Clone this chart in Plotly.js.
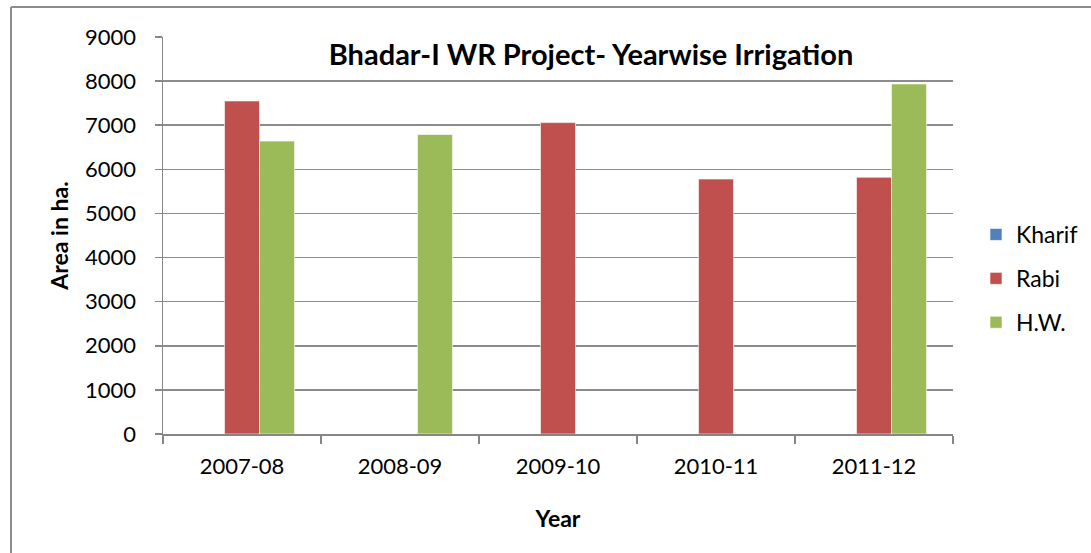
<!DOCTYPE html>
<html>
<head>
<meta charset="utf-8">
<script src="https://cdn.plot.ly/plotly-3.0.1.min.js"></script>
<style>html,body{margin:0;padding:0;background:#fff;}#chart{width:1091px;height:553px;}</style>
</head>
<body>
<div id="chart"></div>
<script>
const years = ["2007-08", "2008-09", "2009-10", "2010-11", "2011-12"];
const kharif = [0, 0, 0, 0, 0];
const rabi = [7550, 0, 7060, 5780, 5820];
const hw = [6640, 6790, 0, 0, 7935];

const FONT = "Lato, 'Liberation Sans', sans-serif";
const W = 1091, H = 553;
const L = 163, R = 953, T = 37, B = 434;
const px2x = p => (p - L) / (R - L);
const px2y = p => (B - p) / (B - T);

function bar(name, y, color, grp) {
  return {
    type: "bar", name: name, x: years, y: y,
    marker: {color: color, line: {color: "rgba(255,255,255,0.6)", width: 1}},
    legendgroup: grp, hoverinfo: "x+y+name"
  };
}

const data = [
  bar("Kharif", kharif, "#4F81BD", "a"),
  bar("Rabi", rabi, "#C0504D", "b"),
  bar("H.W.", hw, "#9BBB59", "c")
];

const layout = {
  width: W, height: H,
  margin: {l: L, r: W - R, t: T, b: H - B, pad: 0, autoexpand: false},
  paper_bgcolor: "#fff", plot_bgcolor: "#fff",
  font: {family: FONT, color: "#000", size: 22},
  barmode: "group", bargap: 0.335, bargroupgap: 0,
  title: {
    text: "<b>Bhadar-I WR Project- Yearwise Irrigation</b>",
    font: {family: FONT, size: 29, color: "#000"},
    xref: "container", yref: "container",
    x: 591 / W, y: 1 - 55 / H, xanchor: "center", yanchor: "middle"
  },
  xaxis: {
    type: "category", tickson: "boundaries",
    ticks: "outside", ticklen: 8, tickcolor: "#868686", tickwidth: 1.5,
    showline: true, linecolor: "#868686", linewidth: 1.5,
    showgrid: false, zeroline: false, ticklabelstandoff: 12,
    tickfont: {family: FONT, size: 22, color: "#000"},
    title: {text: "<b>Year</b>", font: {family: FONT, size: 23, color: "#000"}, standoff: 33}
  },
  yaxis: {
    range: [0, 9000], dtick: 1000, tick0: 0,
    ticks: "outside", ticklen: 7, tickcolor: "#868686", tickwidth: 1.5,
    showline: true, linecolor: "#868686", linewidth: 1.5,
    showgrid: true, gridcolor: "#8c8c8c", gridwidth: 1.5,
    zeroline: false, ticklabelstandoff: 14,
    tickfont: {family: FONT, size: 22, color: "#000"},
    title: {text: "<b>Area in ha.</b>", font: {family: FONT, size: 23, color: "#000"}, standoff: 10}
  },
  legend: {
    x: px2x(976), y: px2y(213), xanchor: "left", yanchor: "top",
    font: {family: FONT, size: 23, color: "#000"},
    traceorder: "grouped", tracegroupgap: 11,
    itemwidth: 30, bgcolor: "rgba(0,0,0,0)"
  },
  shapes: [
    {type: "line", xref: "paper", yref: "paper", x0: px2x(11), x1: px2x(11), y0: px2y(7), y1: px2y(560), line: {color: "#8c8c8c", width: 2}},
    {type: "line", xref: "paper", yref: "paper", x0: px2x(11), x1: px2x(1100), y0: px2y(7), y1: px2y(7), line: {color: "#8c8c8c", width: 2}}
  ],
  showlegend: true
};

Plotly.newPlot("chart", data, layout, {displayModeBar: false, staticPlot: true});
</script>
</body>
</html>
